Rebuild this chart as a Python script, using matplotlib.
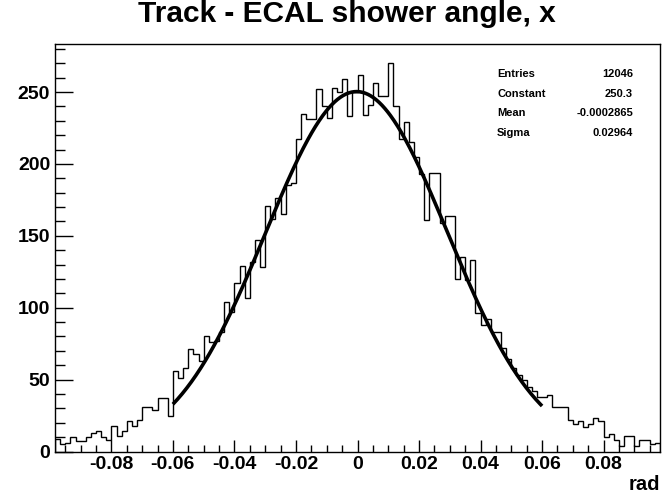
import matplotlib
matplotlib.use('Agg')

import numpy as np
import matplotlib.pyplot as plt
from matplotlib.ticker import MultipleLocator, FuncFormatter

plt.rcParams['font.family'] = ['Liberation Sans', 'DejaVu Sans']
plt.rcParams['axes.unicode_minus'] = False

# bin contents, 118 bins of 0.02/12 from -0.09833 to 0.09833
counts = [
    9, 5, 6, 10, 7, 7, 10, 13, 14, 10,
    8, 18, 11, 14, 21, 18, 22, 31, 31, 29,
    37, 37, 25, 56, 51, 58, 71, 68, 63, 80,
    76, 77, 83, 104, 97, 117, 129, 107, 132, 147,
    128, 171, 162, 176, 165, 185, 187, 217, 235, 231,
    231, 252, 240, 232, 253, 250, 259, 233, 250, 262,
    234, 241, 256, 247, 247, 270, 240, 217, 229, 215,
    205, 193, 161, 194, 194, 159, 164, 164, 120, 135,
    119, 133, 96, 88, 92, 83, 83, 72, 64, 58,
    53, 50, 45, 42, 38, 38, 39, 31, 31, 31,
    22, 19, 21, 17, 19, 23, 21, 10, 12, 8,
    4, 11, 11, 4, 8, 8, 5, 6,
]
bin_w = 0.02 / 12
nbins = len(counts)

# fit result shown in the stats box
stat_names = ['Entries', 'Constant', 'Mean', 'Sigma']
stat_values = ['12046', '250.3', '-0.0002865', '0.02964']
fit_const, fit_mean, fit_sigma = 250.3, -0.0002865, 0.02964
fit_lo, fit_hi = -0.06, 0.06

edges = (np.arange(nbins + 1) - nbins / 2) * bin_w

fig = plt.figure(figsize=(6.66, 4.92), dpi=100)
ax = fig.add_axes([55/666, 1 - 451.5/492, 605/666, 407.5/492])

ax.stairs(counts, edges, color='black', lw=1.0, baseline=0)

xf = np.linspace(fit_lo, fit_hi, 400)
yf = fit_const * np.exp(-0.5 * ((xf - fit_mean) / fit_sigma) ** 2)
ax.plot(xf, yf, color='black', lw=2.6, solid_capstyle='butt')

ax.set_xlim(edges[0], edges[-1])
ax.set_ylim(0, 283.4)

ax.xaxis.set_major_locator(MultipleLocator(0.02))
ax.xaxis.set_minor_locator(MultipleLocator(0.005))
ax.yaxis.set_major_locator(MultipleLocator(50))
ax.yaxis.set_minor_locator(MultipleLocator(10))
ax.xaxis.set_major_formatter(FuncFormatter(lambda v, p: '%g' % round(v, 4)))

ax.tick_params(axis='x', which='major', direction='in', length=8.6, width=1, pad=3.5)
ax.tick_params(axis='x', which='minor', direction='in', length=5, width=1)
ax.tick_params(axis='y', which='major', direction='in', length=13, width=1, pad=3.5)
ax.tick_params(axis='y', which='minor', direction='in', length=7, width=1)
ax.tick_params(labelsize=14)
for lab in ax.get_xticklabels() + ax.get_yticklabels():
    lab.set_fontweight('bold')
for sp in ax.spines.values():
    sp.set_linewidth(1)

ax.text(1.0, -(484 - 451.5) / 407.5, 'rad', transform=ax.transAxes, ha='right',
        va='center', fontsize=14.5, fontweight='bold')

fig.text(346.5/666, 1 - 14.5/492, 'Track - ECAL shower angle, x', ha='center',
         va='center', fontsize=21.5, fontweight='bold')

rows_y = [74, 94, 113.5, 132.5]
for name, val, yy in zip(stat_names, stat_values, rows_y):
    fig.text(497/666, 1 - yy/492, name, ha='left', va='center',
             fontsize=8, fontweight='bold')
    fig.text(633/666, 1 - yy/492, val, ha='right', va='center',
             fontsize=8, fontweight='bold')

fig.savefig('out.png', dpi=100, facecolor='white')
